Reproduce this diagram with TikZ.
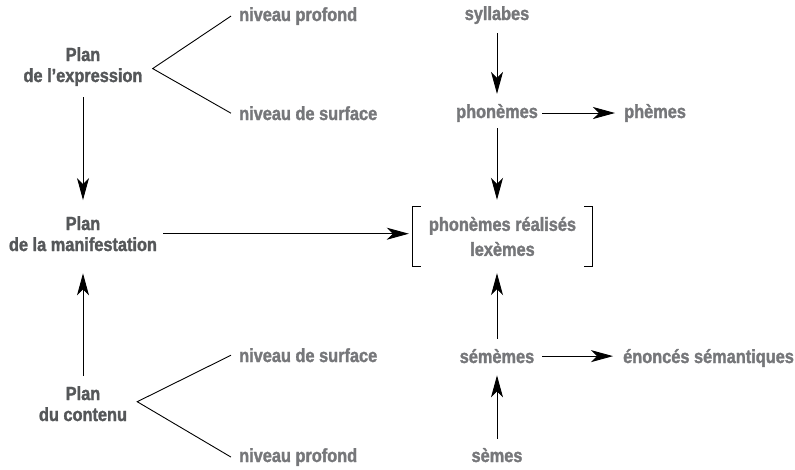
\documentclass[tikz,border=0pt]{standalone}
\usepackage{fontspec}
\newfontfamily\lbl[FakeStretch=0.86, FakeBold=1.6]{Liberation Sans Bold}
\usetikzlibrary{arrows.meta,calc}
\definecolor{plancol}{HTML}{555759}
\definecolor{termcol}{HTML}{76777A}
\begin{document}
\begin{tikzpicture}[x=1pt,y=-1pt,
  every node/.style={font=\lbl\fontsize{19}{21}\selectfont, inner sep=0pt},
  plan/.style={text=plancol, align=center, anchor=base},
  term/.style={text=termcol, anchor=base},
  termw/.style={term, anchor=base west},
  conn/.style={line width=0.9pt, black},
  arr/.style={conn, -{Stealth[length=22pt,width=12pt,inset=6pt]}}]
\useasboundingbox (0,0) rectangle (795,469);

% left column: the three planes (base = baseline of the last line)
\node[plan] (expr)  at (83,82)  {Plan\\de l’expression};
\node[plan] (manif) at (83,251) {Plan\\de la manifestation};
\node[plan] (cont)  at (83,421) {Plan\\du contenu};

% levels of each plane
\node[termw] (np1) at (239,21)  {niveau profond};
\node[termw] (ns1) at (239,120) {niveau de surface};
\node[termw] (ns2) at (239,362) {niveau de surface};
\node[termw] (np2) at (239,462) {niveau profond};

% right column: units
\node[term]  (syl)   at (497,20)  {syllabes};
\node[term]  (phon)  at (497,118) {phonèmes};
\node[termw] (phem)  at (624,118) {phèmes};
\node[text=termcol, align=center, minimum width=179pt, minimum height=59pt,
      font=\lbl\fontsize{19}{25}\selectfont]
      (real) at (502.5,236.5) {phonèmes réalisés\\lexèmes};
\node[term]  (sem)   at (497,363) {sémèmes};
\node[termw] (enon)  at (623,363) {énoncés sémantiques};
\node[term]  (semes) at (497,462) {sèmes};

% brackets round the manifested units
\draw[conn] ([xshift=8pt]real.north west) -- (real.north west) -- (real.south west) -- ([xshift=8pt]real.south west);
\draw[conn] ([xshift=-8pt]real.north east) -- (real.north east) -- (real.south east) -- ([xshift=-8pt]real.south east);

% forks to the levels
\draw[conn] ([xshift=-8pt]np1.west) -- ([shift={(10pt,-2pt)}]expr.east) -- ([xshift=-8pt]ns1.west);
\draw[conn] ([xshift=-8pt]ns2.west) -- ([shift={(10pt,2pt)}]cont.east) -- ([xshift=-8pt]np2.west);

% arrows, left column
\draw[arr, shorten <=11pt, shorten >=16pt] (expr) -- (manif);
\draw[arr, shorten <=10pt, shorten >=22pt] (cont) -- (manif);
\draw[arr, shorten <=6pt, shorten >=4pt] (manif.east) -- (manif.east -| real.west);

% arrows, right column
\draw[arr, shorten <=9pt, shorten >=10pt] (syl) -- (phon);
\draw[arr, shorten <=4pt, shorten >=9pt] (phon) -- (phem);
\draw[arr, shorten <=6pt, shorten >=7pt] (phon) -- (phon |- real.north);
\draw[arr, shorten <=10pt, shorten >=7pt] (sem) -- (sem |- real.south);
\draw[arr, shorten <=8pt, shorten >=10pt] (sem.east) -- (sem.east -| enon.west);
\draw[arr, shorten <=9pt, shorten >=12pt] (semes) -- (sem);
\end{tikzpicture}
\end{document}
